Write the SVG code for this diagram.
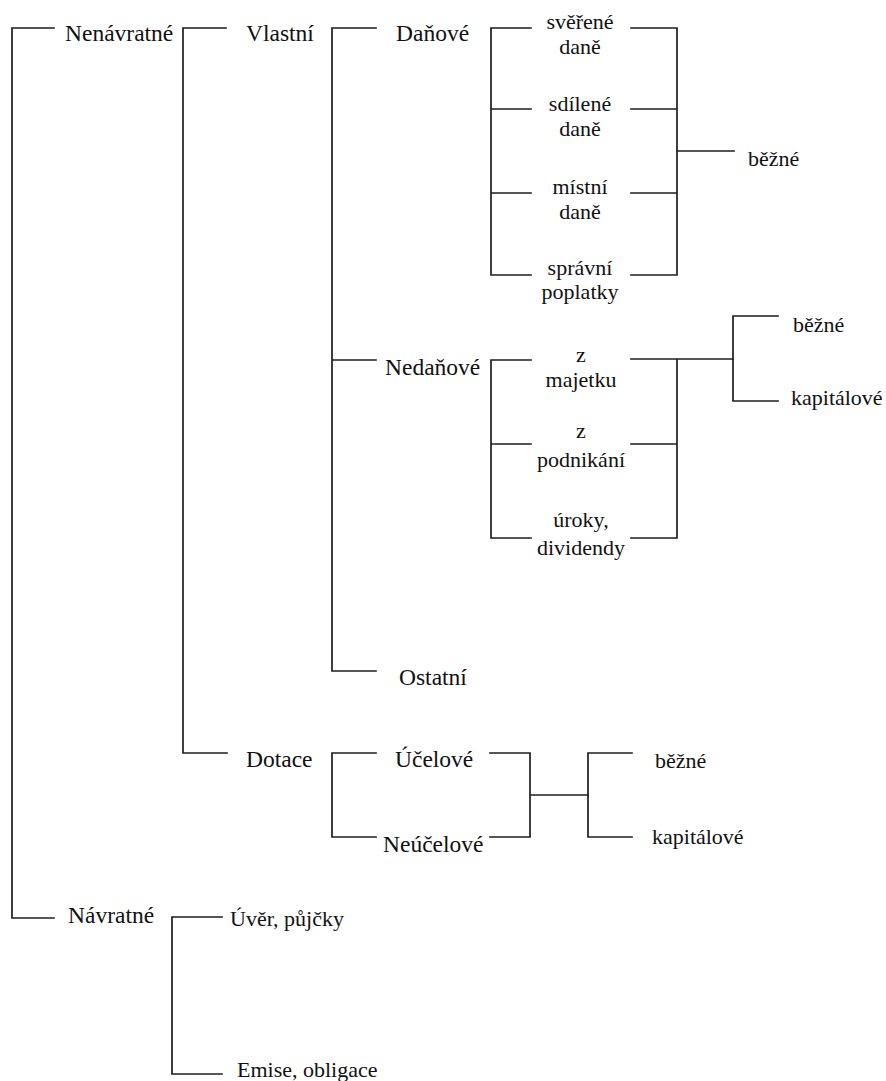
<svg xmlns="http://www.w3.org/2000/svg" width="886" height="1081" viewBox="0 0 886 1081">
<style>
.c{stroke:#1e1e1e;stroke-width:1.7;fill:none;stroke-linecap:square}
text{font-family:'Liberation Serif','Tinos','Times New Roman','DejaVu Serif',serif;font-size:22px;fill:#111}
.m{text-anchor:middle}
.b{font-size:23.5px}
</style>
<rect width="886" height="1081" fill="#fff"/>
<g id="connectors">
<path class="c" d="M12,28 V918 M12,28 H54 M12,918 H54"/>
<path class="c" d="M183,28 V753 M183,28 H226 M183,753 H227"/>
<path class="c" d="M332,28 V671 M332,28 H376 M332,360 H376 M332,671 H376"/>
<path class="c" d="M491,28 V275 M491,28 H531 M491,109 H531 M491,193 H531 M491,275 H531"/>
<path class="c" d="M677,28 V275 M631,28 H677 M631,109 H677 M631,193 H677 M631,275 H677 M677,151 H734"/>
<path class="c" d="M491,360 V538 M491,360 H531 M491,444 H531 M491,538 H531"/>
<path class="c" d="M677,359 V538 M631,359 H733 M631,444 H677 M631,538 H677"/>
<path class="c" d="M733,316 V401 M733,316 H778 M733,401 H778"/>
<path class="c" d="M332,753 V837 M332,753 H376 M332,837 H376"/>
<path class="c" d="M530,753 V837 M490,753 H530 M490,837 H530 M530,795 H588"/>
<path class="c" d="M588,753 V837 M588,753 H632 M588,837 H632"/>
<path class="c" d="M172,917 V1074 M172,917 H222 M172,1074 H222"/>
</g>
<g id="n-nenavratne"><text class="b" x="65" y="41">Nenávratné</text></g>
<g id="n-vlastni"><text class="b" x="246" y="41">Vlastní</text></g>
<g id="n-danove"><text class="b" x="396" y="41">Daňové</text></g>
<g id="n-sverene"><text class="m" x="580" y="29">svěřené</text><text class="m" x="580" y="54">daně</text></g>
<g id="n-sdilene"><text class="m" x="580" y="111">sdílené</text><text class="m" x="580" y="136">daně</text></g>
<g id="n-mistni"><text class="m" x="580" y="194">místní</text><text class="m" x="580" y="219">daně</text></g>
<g id="n-spravni"><text class="m" x="580" y="275">správní</text><text class="m" x="580" y="299">poplatky</text></g>
<g id="n-bezne1"><text x="748" y="166">běžné</text></g>
<g id="n-nedanove"><text class="b" x="385" y="375">Nedaňové</text></g>
<g id="n-majetku"><text class="m" x="581" y="362">z</text><text class="m" x="581" y="387">majetku</text></g>
<g id="n-podnikani"><text class="m" x="581" y="438">z</text><text class="m" x="581" y="467">podnikání</text></g>
<g id="n-uroky"><text class="m" x="581" y="527">úroky,</text><text class="m" x="581" y="555">dividendy</text></g>
<g id="n-bezne2"><text x="793" y="332">běžné</text></g>
<g id="n-kapitalove2"><text x="791" y="405">kapitálové</text></g>
<g id="n-ostatni"><text class="b" x="399" y="685">Ostatní</text></g>
<g id="n-dotace"><text class="b" x="246" y="767">Dotace</text></g>
<g id="n-ucelove"><text class="b" x="395" y="767">Účelové</text></g>
<g id="n-neucelove"><text class="b" x="383" y="852">Neúčelové</text></g>
<g id="n-bezne3"><text x="655" y="768">běžné</text></g>
<g id="n-kapitalove3"><text x="652" y="844">kapitálové</text></g>
<g id="n-navratne"><text class="b" x="68" y="923">Návratné</text></g>
<g id="n-uver"><text x="230" y="926">Úvěr, půjčky</text></g>
<g id="n-emise"><text x="237" y="1077">Emise, obligace</text></g>
</svg>
